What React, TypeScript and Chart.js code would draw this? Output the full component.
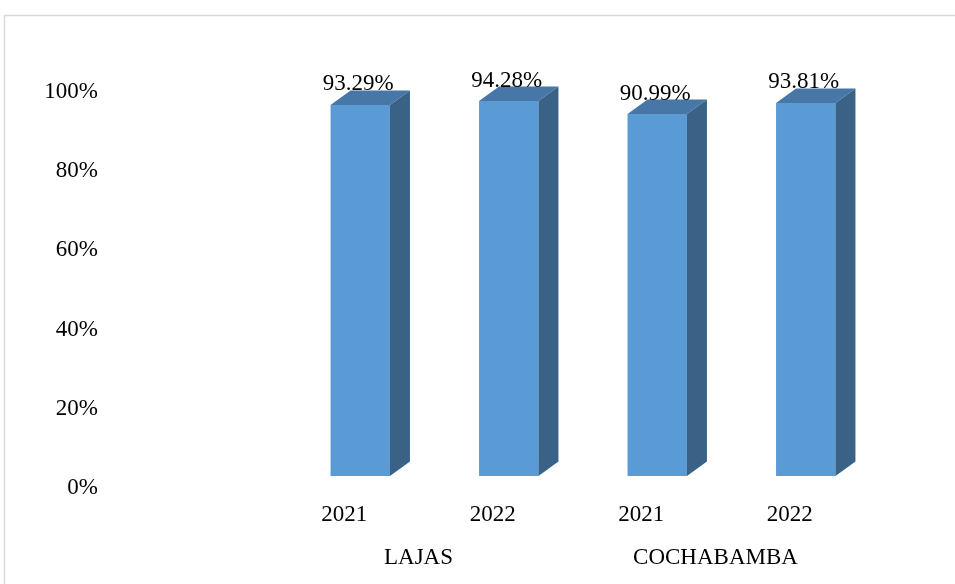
import React, { useEffect, useRef } from "react";
import { Chart, registerables } from "chart.js";

Chart.register(...registerables);

// ---- data ----
const years = ["2021", "2022", "2021", "2022"];
const groups = ["LAJAS", "COCHABAMBA"];
const values = [0.9329, 0.9428, 0.9099, 0.9381];
const yTickStep = 0.2;

// ---- styles ----
const FONT = "'Liberation Serif', 'Times New Roman', serif";
const FONT_SIZE = 23;
const FRONT = "#5B9BD5";
const TOP = "#4677A7";
const SIDE = "#3A6287";
const DX = 20;
const DY = 14.5;
const W = 955;
const H = 584;

const threeDPlugin = {
  id: "threeD",
  beforeDraw(chart: any) {
    const ctx = chart.ctx;
    ctx.save();
    ctx.strokeStyle = "#d9d9d9";
    ctx.lineWidth = 1.5;
    ctx.strokeRect(4.5, 15.5, 1200, 1200);
    ctx.restore();
  },
  afterDatasetsDraw(chart: any) {
    const ctx = chart.ctx;
    const meta = chart.getDatasetMeta(0);
    ctx.save();
    meta.data.forEach((bar: any, i: number) => {
      const { x, y, base, width } = bar.getProps(["x", "y", "base", "width"], true);
      const l = x - width / 2;
      const r = x + width / 2;
      // top face
      ctx.fillStyle = TOP;
      ctx.beginPath();
      ctx.moveTo(l, y);
      ctx.lineTo(l + DX, y - DY);
      ctx.lineTo(r + DX, y - DY);
      ctx.lineTo(r, y);
      ctx.closePath();
      ctx.fill();
      // side face
      ctx.fillStyle = SIDE;
      ctx.beginPath();
      ctx.moveTo(r, y);
      ctx.lineTo(r + DX, y - DY);
      ctx.lineTo(r + DX, base - DY);
      ctx.lineTo(r, base);
      ctx.closePath();
      ctx.fill();
      // value label
      ctx.fillStyle = "#000";
      ctx.font = `${FONT_SIZE}px ${FONT}`;
      ctx.textAlign = "center";
      ctx.textBaseline = "alphabetic";
      ctx.fillText((values[i] * 100).toFixed(2) + "%", x - 2, y - DY);
    });
    ctx.restore();
  },
};

export default function App() {
  const ref = useRef<HTMLCanvasElement | null>(null);

  useEffect(() => {
    if (!ref.current) return;
    const tickFont = { family: FONT, size: FONT_SIZE };
    const chart = new Chart(ref.current, {
      type: "bar",
      data: {
        labels: years,
        datasets: [
          {
            data: values,
            backgroundColor: FRONT,
            borderWidth: 0,
            yAxisID: "yBar",
            xAxisID: "x",
            categoryPercentage: 1,
            barPercentage: 0.4,
            clip: false as any,
          },
        ],
      },
      options: {
        animation: false,
        responsive: false,
        maintainAspectRatio: false,
        layout: { padding: { left: 0, right: 75, top: 92, bottom: 0 } },
        plugins: { legend: { display: false }, tooltip: { enabled: false } },
        scales: {
          x: {
            type: "category",
            position: "bottom",
            weight: 1,
            offset: true,
            grid: { display: false, drawTicks: false },
            border: { display: false },
            ticks: { font: tickFont, color: "#000", padding: 13, labelOffset: -16, maxRotation: 0 },
            afterFit: (s: any) => {
              s.height = 44;
              s.paddingLeft = 0;
              s.paddingRight = 0;
            },
          },
          x2: {
            type: "category",
            labels: groups,
            position: "bottom",
            weight: 2,
            offset: true,
            grid: { display: false, drawTicks: false },
            border: { display: false },
            ticks: { font: tickFont, color: "#000", padding: 12, labelOffset: -16, maxRotation: 0 },
            afterFit: (s: any) => {
              s.height = 52;
              s.paddingLeft = 0;
              s.paddingRight = 0;
            },
          },
          y: {
            type: "linear",
            position: "left",
            min: 0,
            max: 1,
            grid: { display: false, drawTicks: false },
            border: { display: false },
            ticks: {
              stepSize: yTickStep,
              font: tickFont,
              color: "#000",
              padding: 188,
              callback: (v: any) => Math.round(Number(v) * 100) + "%",
            },
            afterFit: (s: any) => {
              s.width = 286;
              s.paddingTop = 0;
              s.paddingBottom = 0;
            },
          },
          yBar: {
            type: "linear",
            display: false,
            min: -0.0302,
            max: 0.9655,
          },
        },
      },
      plugins: [threeDPlugin],
    } as any);
    return () => chart.destroy();
  }, []);

  return (
    <div
      style={{
        position: "fixed",
        left: 0,
        top: 0,
        width: W,
        height: H,
        overflow: "hidden",
        background: "#fff",
      }}
    >
      <canvas ref={ref} width={W} height={H} style={{ width: W, height: H, display: "block" }} />
    </div>
  );
}
